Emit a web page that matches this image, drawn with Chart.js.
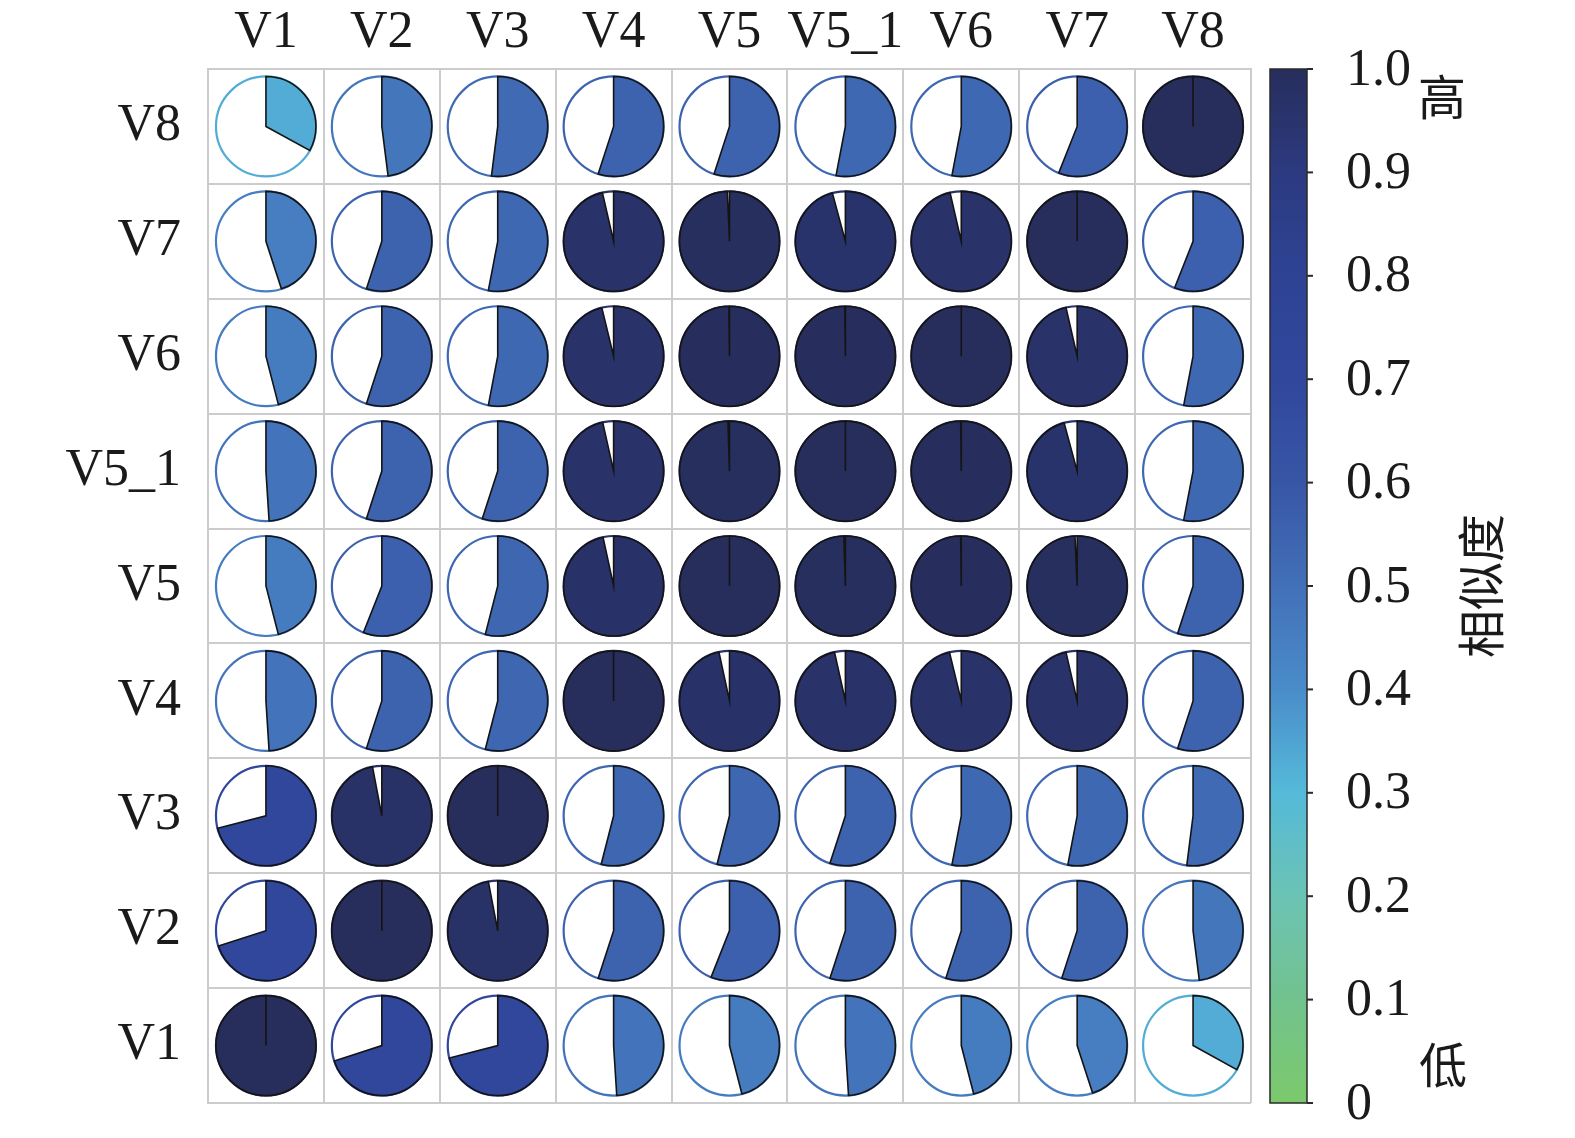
<!DOCTYPE html>
<html>
<head>
<meta charset="utf-8">
<script src="https://cdn.jsdelivr.net/npm/chart.js@4.4.0/dist/chart.umd.min.js"></script>
<style>
  html, body { margin: 0; padding: 0; background: #fff; }
  #wrap { width: 1575px; height: 1138px; }
</style>
</head>
<body>
<div id="wrap"><canvas id="simChart" width="1575" height="1138"></canvas></div>
<script>
// columns left to right, rows top to bottom
const variables = ['V1', 'V2', 'V3', 'V4', 'V5', 'V5_1', 'V6', 'V7', 'V8'];
const rowOrder = ['V8', 'V7', 'V6', 'V5_1', 'V5', 'V4', 'V3', 'V2', 'V1'];

// similarity of each variable with V1..V8
const simV1   = [1.00, 0.70, 0.71, 0.49, 0.46, 0.49, 0.46, 0.45, 0.33];
const simV2   = [0.70, 1.00, 0.97, 0.55, 0.56, 0.55, 0.55, 0.55, 0.48];
const simV3   = [0.71, 0.97, 1.00, 0.54, 0.54, 0.55, 0.53, 0.53, 0.52];
const simV4   = [0.49, 0.55, 0.54, 1.00, 0.966, 0.965, 0.962, 0.964, 0.55];
const simV5   = [0.46, 0.56, 0.54, 0.966, 1.00, 0.995, 0.998, 0.993, 0.55];
const simV5_1 = [0.49, 0.55, 0.55, 0.965, 0.995, 1.00, 0.998, 0.958, 0.53];
const simV6   = [0.46, 0.55, 0.53, 0.962, 0.998, 0.998, 1.00, 0.964, 0.53];
const simV7   = [0.45, 0.55, 0.53, 0.964, 0.993, 0.958, 0.964, 1.00, 0.56];
const simV8   = [0.33, 0.48, 0.52, 0.55, 0.55, 0.53, 0.53, 0.56, 1.00];

const simRows = {
    V1: simV1, V2: simV2, V3: simV3, V4: simV4, V5: simV5,
    V5_1: simV5_1, V6: simV6, V7: simV7, V8: simV8
};

// colour bar
const colorbarTicks = [0, 0.1, 0.2, 0.3, 0.4, 0.5, 0.6, 0.7, 0.8, 0.9, 1.0];
const cmapStops  = [0, 0.1, 0.2, 0.3, 0.4, 0.5, 0.6, 0.7, 0.8, 0.9, 1.0];
const cmapColors = ['#7bc96b', '#72c28e', '#6bc3b4', '#55bad9', '#4a8cca', '#4270b8',
                    '#3856a6', '#30479c', '#2e4394', '#2c3a80', '#272e5c'];

function hexRgb(h) {
    return [parseInt(h.substr(1, 2), 16), parseInt(h.substr(3, 2), 16), parseInt(h.substr(5, 2), 16)];
}

function colorFor(v) {
    for (let i = 1; i < cmapStops.length; i++) {
        if (v <= cmapStops[i]) {
            const t = (v - cmapStops[i - 1]) / (cmapStops[i] - cmapStops[i - 1]);
            const a = hexRgb(cmapColors[i - 1]), b = hexRgb(cmapColors[i]);
            const c = a.map((x, k) => Math.round(x + (b[k] - x) * t));
            return `rgb(${c[0]},${c[1]},${c[2]})`;
        }
    }
    return cmapColors[cmapColors.length - 1];
}

const cellPoints = [];
rowOrder.forEach(rowName => {
    variables.forEach((colName, j) => {
        cellPoints.push({ x: colName, y: rowName, v: simRows[rowName][j] });
    });
});

const serif = '"Liberation Serif", "DejaVu Serif", serif';
const cjk = '"Noto Sans CJK SC", "Noto Sans CJK JP", sans-serif';

// pie glyph for each cell, placed on the point the scales give us
const piePlugin = {
    id: 'pieCells',
    afterDatasetsDraw(chart) {
        const ctx = chart.ctx;
        const meta = chart.getDatasetMeta(0);
        const xs = chart.scales.x, ys = chart.scales.y;
        const r = Math.min(xs.width / variables.length, ys.height / rowOrder.length) * 0.435;
        meta.data.forEach((pt, i) => {
            const v = chart.data.datasets[0].data[i].v;
            const col = colorFor(v);
            const a0 = -Math.PI / 2;
            const a1 = a0 + v * 2 * Math.PI;
            ctx.save();
            ctx.beginPath();
            ctx.arc(pt.x, pt.y, r, 0, 2 * Math.PI);
            ctx.fillStyle = '#fff';
            ctx.fill();
            ctx.lineWidth = 2.2;
            ctx.strokeStyle = col;
            ctx.stroke();

            ctx.beginPath();
            ctx.moveTo(pt.x, pt.y);
            ctx.arc(pt.x, pt.y, r, a0, a1);
            ctx.closePath();
            ctx.fillStyle = col;
            ctx.fill();
            ctx.lineWidth = 1.6;
            ctx.lineJoin = 'miter';
            ctx.strokeStyle = '#141414';
            ctx.stroke();
            ctx.restore();
        });
    }
};

// gradient bar + labels on the right
const colorbarPlugin = {
    id: 'colorbar',
    afterDraw(chart) {
        const ctx = chart.ctx;
        const cb = chart.scales.cb;
        const right = chart.chartArea.right;
        const x0 = right + 19;
        const w = 37;
        const yTop = cb.getPixelForValue(1);
        const yBot = cb.getPixelForValue(0);

        ctx.save();
        const grad = ctx.createLinearGradient(0, yBot, 0, yTop);
        cmapStops.forEach((s, i) => grad.addColorStop(s, cmapColors[i]));
        ctx.fillStyle = grad;
        ctx.fillRect(x0, yTop, w, yBot - yTop);
        ctx.lineWidth = 1.5;
        ctx.strokeStyle = '#2a2a2a';
        ctx.strokeRect(x0, yTop, w, yBot - yTop);

        ctx.lineWidth = 2;
        colorbarTicks.forEach(t => {
            const y = cb.getPixelForValue(t);
            ctx.beginPath();
            ctx.moveTo(x0 + w, y);
            ctx.lineTo(x0 + w + 6, y);
            ctx.stroke();
        });

        ctx.fillStyle = '#1a1a1a';
        ctx.font = '48px ' + cjk;
        ctx.textAlign = 'center';
        ctx.textBaseline = 'middle';
        ctx.fillText('高', right + 191, yTop + 28);
        ctx.fillText('低', right + 192, yBot - 38);

        ctx.translate(right + 230, (yTop + yBot) / 2);
        ctx.rotate(-Math.PI / 2);
        ctx.fillText('相似度', 0, 0);
        ctx.restore();
    }
};

// fixed axis boxes so the matrix lands where it should
function fixBox(size, horizontal) {
    return s => {
        if (horizontal) s.height = size; else s.width = size;
        s.paddingTop = 0;
        s.paddingBottom = 0;
        s.paddingLeft = 0;
        s.paddingRight = 0;
    };
}

const gridColor = '#cccccc';

new Chart(document.getElementById('simChart'), {
    type: 'scatter',
    data: {
        datasets: [{
            data: cellPoints,
            pointRadius: 0,
            pointHoverRadius: 0,
            showLine: false
        }]
    },
    options: {
        responsive: false,
        animation: false,
        events: [],
        layout: { padding: { left: 0, top: 0, right: 0, bottom: 35 } },
        plugins: {
            legend: { display: false },
            tooltip: { enabled: false }
        },
        scales: {
            x: {
                type: 'category',
                position: 'top',
                labels: variables,
                offset: true,
                grid: { offset: true, color: gridColor, lineWidth: 2, drawTicks: false },
                border: { color: gridColor, width: 2 },
                ticks: {
                    padding: 4,
                    autoSkip: false,
                    maxRotation: 0,
                    color: '#1a1a1a',
                    font: { family: serif, size: 52 }
                },
                afterFit: fixBox(69, true)
            },
            y: {
                type: 'category',
                position: 'left',
                labels: rowOrder,
                offset: true,
                grid: { offset: true, color: gridColor, lineWidth: 2, drawTicks: false },
                border: { color: gridColor, width: 2 },
                ticks: {
                    padding: 27,
                    autoSkip: false,
                    color: '#1a1a1a',
                    font: { family: serif, size: 52 }
                },
                afterFit: fixBox(208, false)
            },
            cb: {
                type: 'linear',
                axis: 'y',
                position: 'right',
                min: 0,
                max: 1,
                grid: { display: false, drawOnChartArea: false },
                border: { display: false },
                ticks: {
                    stepSize: 0.1,
                    padding: 87,
                    labelOffset: 2,
                    color: '#1a1a1a',
                    font: { family: serif, size: 52 },
                    callback: v => (v === 0 ? '0' : Number(v).toFixed(1))
                },
                afterFit: fixBox(324, false)
            }
        }
    },
    plugins: [piePlugin, colorbarPlugin]
});
</script>
</body>
</html>
